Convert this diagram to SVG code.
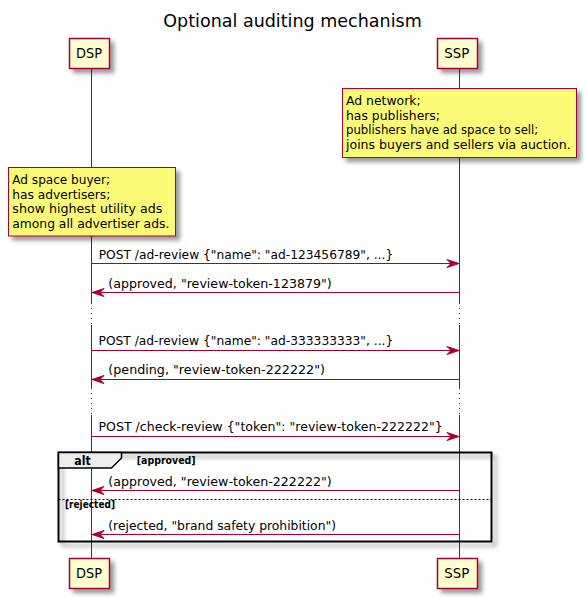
<svg xmlns="http://www.w3.org/2000/svg" width="586" height="599" viewBox="0 0 586 599">
<defs>
<filter id="sh" x="-1" y="-1" width="300%" height="300%">
<feGaussianBlur result="b1" stdDeviation="2"/>
<feColorMatrix in="b1" result="b2" type="matrix" values="0 0 0 0 0 0 0 0 0 0 0 0 0 0 0 0 0 0 0.4 0"/>
<feOffset dx="4" dy="4" in="b2" result="b3"/>
<feBlend in="SourceGraphic" in2="b3" mode="normal"/>
</filter>
</defs>
<style>
text{font-family:"DejaVu Sans","Liberation Sans",sans-serif;fill:#000}
.t13{font-size:13px}
.t14{font-size:14px}
.part{fill:#FEFECE;stroke:#A80036;stroke-width:1.5}
.note{fill:#FBFB77;stroke:#A80036;stroke-width:1}
.life{stroke:#A80036;stroke-width:1;fill:none}
.dot{stroke:#A80036;stroke-width:1;fill:none;stroke-dasharray:1,4}
.msg{stroke:#A80036;stroke-width:1;fill:none}
.head{fill:#A80036;stroke:#A80036;stroke-width:1}
.b13{font-size:13px;font-weight:bold}
.b11{font-size:11px;font-weight:bold}
</style>
<rect width="586" height="599" fill="#FFFFFF"/>
<text x="163.3" y="26.7" style="font-size:18px" textLength="258.4" lengthAdjust="spacingAndGlyphs">Optional auditing mechanism</text>

<g id="lifelines">
<path class="life" d="M91.5,68.5 V303 M91.5,325 V388 M91.5,415 V558.5"/>
<path class="dot" d="M91.5,303 V325 M91.5,388 V415"/>
<path class="life" d="M459.5,68.5 V303 M459.5,325 V388 M459.5,415 V558.5"/>
<path class="dot" d="M459.5,303 V325 M459.5,388 V415"/>
</g>

<g id="DSP">
<rect class="part" x="69.5" y="38.5" width="40" height="30" filter="url(#sh)"/>
<text class="t14" x="76" y="58.3" textLength="26" lengthAdjust="spacingAndGlyphs">DSP</text>
</g>
<g id="SSP">
<rect class="part" x="437.5" y="38.5" width="40" height="30" filter="url(#sh)"/>
<text class="t14" x="444.3" y="58.3" textLength="25" lengthAdjust="spacingAndGlyphs">SSP</text>
</g>
<g id="DSP-bottom">
<rect class="part" x="69.5" y="558.5" width="40" height="30" filter="url(#sh)"/>
<text class="t14" x="76" y="578.3" textLength="26" lengthAdjust="spacingAndGlyphs">DSP</text>
</g>
<g id="SSP-bottom">
<rect class="part" x="437.5" y="558.5" width="40" height="30" filter="url(#sh)"/>
<text class="t14" x="444.3" y="578.3" textLength="25" lengthAdjust="spacingAndGlyphs">SSP</text>
</g>

<g id="note-SSP">
<rect class="note" x="342.5" y="88.5" width="234" height="69" filter="url(#sh)"/>
<text class="t13" x="346" y="105" textLength="74.7" lengthAdjust="spacingAndGlyphs">Ad network;</text>
<text class="t13" x="346" y="119.7" textLength="94" lengthAdjust="spacingAndGlyphs">has publishers;</text>
<text class="t13" x="346" y="134.3" textLength="192.3" lengthAdjust="spacingAndGlyphs">publishers have ad space to sell;</text>
<text class="t13" x="346" y="149" textLength="224.7" lengthAdjust="spacingAndGlyphs">joins buyers and sellers via auction.</text>
</g>

<g id="note-DSP">
<rect class="note" x="8.5" y="167.5" width="167" height="68.5" filter="url(#sh)"/>
<text class="t13" x="12.3" y="184" textLength="97.7" lengthAdjust="spacingAndGlyphs">Ad space buyer;</text>
<text class="t13" x="12.3" y="198.7" textLength="98" lengthAdjust="spacingAndGlyphs">has advertisers;</text>
<text class="t13" x="12.3" y="213.3" textLength="150" lengthAdjust="spacingAndGlyphs">show highest utility ads</text>
<text class="t13" x="12.3" y="228" textLength="157" lengthAdjust="spacingAndGlyphs">among all advertiser ads.</text>
</g>

<g id="alt-frame">
<rect x="58.5" y="452.5" width="433" height="89" fill="none" stroke="#000000" stroke-width="2" filter="url(#sh)"/>
<polygon points="58.5,452.5 121.5,452.5 121.5,458 111.5,468 58.5,468" fill="#EEEEEE" stroke="#000000" stroke-width="1.5"/>
<text class="b13" x="74.3" y="465" textLength="16.5" lengthAdjust="spacingAndGlyphs">alt</text>
<text class="b11" x="136.7" y="464" textLength="59" lengthAdjust="spacingAndGlyphs">[approved]</text>
<line x1="58.5" y1="499.5" x2="491.5" y2="499.5" stroke="#000000" stroke-width="1" stroke-dasharray="2,2"/>
<text class="b11" x="65" y="508.3" textLength="50" lengthAdjust="spacingAndGlyphs">[rejected]</text>
</g>

<g id="connectors">
<line class="msg" x1="91.5" y1="263.5" x2="458" y2="263.5"/>
<polygon class="head" points="447,259.5 459,263.5 447,267.5 451,263.5"/>
<text class="t13" x="98.7" y="259" textLength="294.5" lengthAdjust="spacingAndGlyphs">POST /ad-review {"name": "ad-123456789", ...}</text>

<line class="msg" x1="93" y1="292.5" x2="459.5" y2="292.5"/>
<polygon class="head" points="104,288.5 92,292.5 104,296.5 100,292.5"/>
<text class="t13" x="108.3" y="288.3" textLength="223.5" lengthAdjust="spacingAndGlyphs">(approved, "review-token-123879")</text>

<line class="msg" x1="91.5" y1="350.5" x2="458" y2="350.5"/>
<polygon class="head" points="447,346.5 459,350.5 447,354.5 451,350.5"/>
<text class="t13" x="98.5" y="345" textLength="294.8" lengthAdjust="spacingAndGlyphs">POST /ad-review {"name": "ad-333333333", ...}</text>

<line class="msg" x1="93" y1="379.5" x2="459.5" y2="379.5"/>
<polygon class="head" points="104,375.5 92,379.5 104,383.5 100,379.5"/>
<text class="t13" x="108.3" y="374" textLength="216.7" lengthAdjust="spacingAndGlyphs">(pending, "review-token-222222")</text>

<line class="msg" x1="91.5" y1="436.5" x2="458" y2="436.5"/>
<polygon class="head" points="447,432.5 459,436.5 447,440.5 451,436.5"/>
<text class="t13" x="98.5" y="430.5" textLength="344.2" lengthAdjust="spacingAndGlyphs">POST /check-review {"token": "review-token-222222"}</text>

<line class="msg" x1="93" y1="490.5" x2="459.5" y2="490.5"/>
<polygon class="head" points="104,486.5 92,490.5 104,494.5 100,490.5"/>
<text class="t13" x="108.3" y="486" textLength="223.4" lengthAdjust="spacingAndGlyphs">(approved, "review-token-222222")</text>

<line class="msg" x1="93" y1="534.5" x2="459.5" y2="534.5"/>
<polygon class="head" points="104,530.5 92,534.5 104,538.5 100,534.5"/>
<text class="t13" x="108.3" y="529.5" textLength="227.7" lengthAdjust="spacingAndGlyphs">(rejected, "brand safety prohibition")</text>
</g>
</svg>
